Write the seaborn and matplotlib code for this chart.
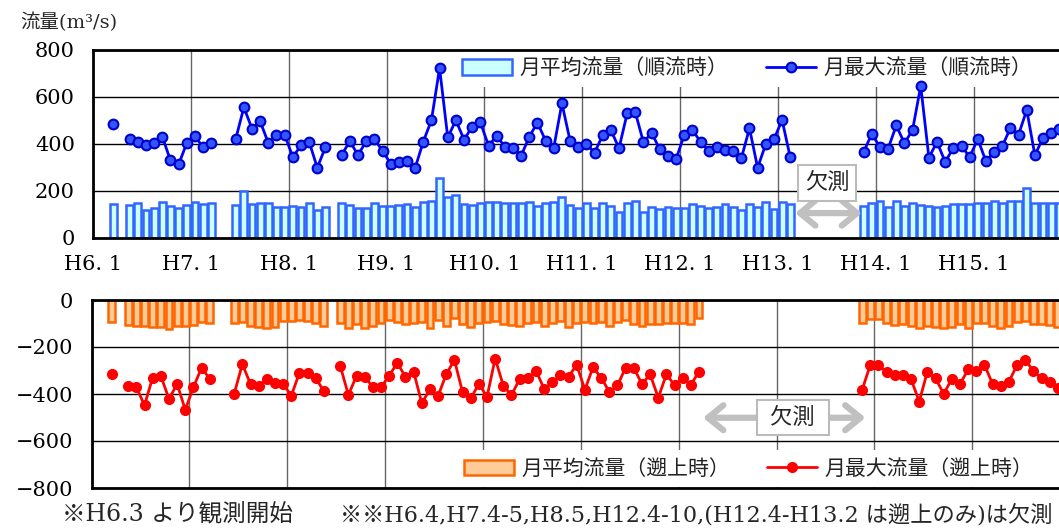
import numpy as np
import pandas as pd
import matplotlib
matplotlib.use("Agg")
import matplotlib.pyplot as plt
import seaborn as sns
from matplotlib.patches import Patch
from matplotlib.lines import Line2D

nan = np.nan

# monthly values, one row per year (H6 .. H15), Jan..Dec
years = ["H6", "H7", "H8", "H9", "H10", "H11", "H12", "H13", "H14", "H15"]

fwd_mean = [
    nan, nan, 146, nan, 140, 148, 121, 126, 153, 138, 126, 142,
    155, 145, 148, nan, nan, 139, 201, 143, 148, 150, 133, 131,
    138, 133, 148, 119, 133, nan, 148, 140, 129, 126, 148, 138,
    136, 140, 143, 133, 152, 157, 257, 176, 183, 143, 140, 149,
    152, 153, 150, 148, 149, 152, 136, 148, 152, 176, 140, 126,
    148, 126, 148, 138, 112, 148, 159, 112, 133, 123, 130, 129,
    126, 145, 138, 126, 133, 143, 133, 119, 143, 133, 152, 122,
    152, 146, nan, nan, nan, nan, nan, nan, nan, nan, 138, 148,
    157, 133, 159, 136, 148, 140, 138, 133, 136, 143, 143, 143,
    148, 148, 157, 148, 157, 157, 211, 148, 150, 150, 148, nan,
]

fwd_max = [
    nan, nan, 486, nan, 421, 408, 396, 404, 431, 330, 313, 404,
    433, 386, 404, nan, nan, 421, 556, 465, 496, 404, 437, 440,
    344, 394, 410, 299, 386, nan, 353, 413, 352, 413, 420, 372,
    315, 323, 329, 298, 410, 501, 723, 428, 501, 418, 474, 492,
    393, 434, 389, 382, 350, 431, 491, 414, 384, 573, 414, 386,
    400, 363, 437, 460, 382, 530, 535, 407, 448, 377, 349, 336,
    438, 460, 409, 370, 386, 374, 369, 339, 467, 299, 400, 420,
    502, 343, nan, nan, nan, nan, nan, nan, nan, nan, 365, 444,
    386, 380, 479, 403, 460, 647, 342, 409, 323, 384, 391, 345,
    421, 326, 367, 391, 468, 440, 545, 352, 427, 448, 462, nan,
]

rev_mean = [
    nan, nan, -95, nan, -106, -112, -110, -116, -113, -123, -110, -110,
    -108, -95, -99, nan, nan, -99, -95, -109, -113, -120, -116, -91,
    -88, -83, -88, -96, -110, nan, -99, -118, -103, -120, -110, -99,
    -85, -92, -102, -96, -93, -120, -85, -110, -78, -103, -113, -99,
    -92, -88, -103, -106, -110, -99, -92, -110, -96, -89, -113, -99,
    -95, -99, -95, -110, -92, -85, -103, -110, -103, -102, -99, -96,
    -99, -103, -75, nan, nan, nan, nan, nan, nan, nan, nan, nan,
    nan, nan, nan, nan, nan, nan, nan, nan, nan, nan, -96, -82,
    -82, -96, -106, -103, -109, -120, -110, -113, -120, -113, -103, -120,
    -99, -96, -110, -118, -110, -95, -88, -103, -103, -106, -113, nan,
]

rev_max = [
    nan, nan, -317, nan, -368, -371, -448, -330, -323, -421, -358, -467,
    -371, -288, -336, nan, nan, -398, -273, -358, -364, -336, -354, -356,
    -408, -309, -309, -334, -387, nan, -280, -404, -323, -327, -370, -371,
    -322, -268, -327, -305, -439, -380, -408, -316, -255, -392, -419, -357,
    -412, -249, -365, -404, -337, -334, -300, -378, -351, -319, -326, -276,
    -382, -286, -331, -391, -363, -288, -289, -358, -316, -416, -316, -363,
    -330, -360, -305, nan, nan, nan, nan, nan, nan, nan, nan, nan,
    nan, nan, nan, nan, nan, nan, nan, nan, nan, nan, -382, -276,
    -276, -307, -319, -320, -337, -432, -305, -334, -399, -336, -358, -295,
    -302, -276, -358, -368, -348, -276, -255, -302, -334, -347, -375, nan,
]

df = pd.DataFrame({
    "month": np.arange(len(fwd_max)) + 0.5,
    "fwd_mean": fwd_mean, "fwd_max": fwd_max,
    "rev_mean": rev_mean, "rev_max": rev_max,
})
# a new segment starts after every missing month, so lines break at gaps
for col in ["fwd_max", "rev_max"]:
    df[col + "_seg"] = df[col].isna().cumsum()

sns.set_theme(style="white")
plt.rcParams["font.family"] = ["DejaVu Serif", "Noto Sans CJK JP"]
plt.rcParams["axes.unicode_minus"] = True
JP = ["DejaVu Serif", "Noto Sans CJK JP"]

W, H = 1059, 528
fig = plt.figure(figsize=(W / 100, H / 100), dpi=100)
ax1 = fig.add_axes([93 / W, 1 - 238 / H, 978.6 / W, 188 / H])
ax2 = fig.add_axes([91.5 / W, 1 - 488 / H, 978.6 / W, 188 / H])

blue_face, blue_edge = "#ccffff", "#3366ff"
orange_face, orange_edge = "#ffcc99", "#ff6600"

# top: forward flow
sns.barplot(data=df.dropna(subset=["fwd_mean"]), x="month", y="fwd_mean",
            native_scale=True, color=blue_face, saturation=1,
            edgecolor=blue_edge, linewidth=1.8, width=0.84,
            errorbar=None, ax=ax1, zorder=3)
sns.lineplot(data=df.dropna(subset=["fwd_max"]), x="month", y="fwd_max",
             units="fwd_max_seg", estimator=None, color="#0000ff",
             linewidth=2, marker="o", markersize=7,
             markerfacecolor="#3355ff", markeredgecolor="#0000cc",
             markeredgewidth=1.5, ax=ax1, zorder=6)

# bottom: reverse flow
sns.barplot(data=df.dropna(subset=["rev_mean"]), x="month", y="rev_mean",
            native_scale=True, color=orange_face, saturation=1,
            edgecolor=orange_edge, linewidth=1.8, width=0.84,
            errorbar=None, ax=ax2, zorder=3)
sns.lineplot(data=df.dropna(subset=["rev_max"]), x="month", y="rev_max",
             units="rev_max_seg", estimator=None, color="#ff0000",
             linewidth=2, marker="o", markersize=7,
             markerfacecolor="#ff0000", markeredgecolor="#ff0000",
             markeredgewidth=1, ax=ax2, zorder=6)

for ax in (ax1, ax2):
    ax.set_xlim(0, 120)
    ax.set_xticks(np.arange(0, 120, 12))
    ax.set_xlabel("")
    ax.set_ylabel("")
    ax.set_axisbelow(True)
    ax.grid(axis="y", color="black", linewidth=1)
    ax.grid(axis="x", color="#666666", linewidth=1)
    ax.tick_params(length=0, labelsize=15, pad=13, colors="black")
    for s in ax.spines.values():
        s.set_color("black")
        s.set_linewidth(2)
        s.set_zorder(10)

ax1.set_ylim(0, 800)
ax1.set_yticks(range(0, 801, 200))
ax1.set_xticklabels([f"{y}. 1" for y in years])
ax1.tick_params(axis="x", pad=12)

ax2.set_ylim(-800, 0)
ax2.set_yticks(range(-800, 1, 200))
ax2.set_xticklabels([])

leg_kw = dict(ncol=2, frameon=True, facecolor="white", edgecolor="none",
              framealpha=1, fancybox=False, prop={"family": JP, "size": 15},
              handlelength=2.4, handleheight=0.8, columnspacing=1.8,
              borderaxespad=0, borderpad=0.4, handletextpad=0.35,
              labelcolor="#222222")

h1 = [Patch(facecolor=blue_face, edgecolor=blue_edge, linewidth=1.8),
      Line2D([], [], color="#0000ff", linewidth=2, marker="o", markersize=7,
             markerfacecolor="#3355ff", markeredgecolor="#0000cc",
             markeredgewidth=1.5)]
lg1 = ax1.legend(h1, ["月平均流量（順流時）", "月最大流量（順流時）"],
                 loc="upper right", bbox_to_anchor=(0.968, 1.0), **leg_kw)
lg1.set_zorder(5)

h2 = [Patch(facecolor=orange_face, edgecolor=orange_edge, linewidth=1.8),
      Line2D([], [], color="#ff0000", linewidth=2, marker="o", markersize=7,
             markerfacecolor="#ff0000", markeredgecolor="#ff0000")]
lg2 = ax2.legend(h2, ["月平均流量（遡上時）", "月最大流量（遡上時）"],
                 loc="lower right", bbox_to_anchor=(0.971, 0.005), **leg_kw)
lg2.set_zorder(5)

# missing-data markers
arrow_kw = dict(arrowstyle="<->,head_length=0.55,head_width=0.45",
                color="#c0c0c0", lw=4.5, shrinkA=0, shrinkB=0,
                mutation_scale=20)
ax1.annotate("", xy=(94.3, 106), xytext=(86.1, 106), arrowprops=arrow_kw,
             zorder=7)
ax1.text(90.0, 234, "欠測", ha="center", va="center", family=JP, fontsize=16,
         bbox=dict(boxstyle="square,pad=0.3", fc="white", ec="#bbbbbb",
                   lw=1.5), zorder=7)
ax2.annotate("", xy=(94.9, -501), xytext=(75.0, -501), arrowprops=arrow_kw,
             zorder=7)
ax2.text(86.0, -501, " 欠測 ", ha="center", va="center", family=JP,
         fontsize=16, bbox=dict(boxstyle="square,pad=0.3", fc="white",
                                ec="#bbbbbb", lw=1.5), zorder=8)

fig.text(20 / W, 1 - 22 / H, "流量(m³/s)", ha="left", va="center",
         family=JP, fontsize=14)
fig.text(62 / W, 1 - 515 / H, "※H6.3 より観測開始", ha="left", va="center",
         family=JP, fontsize=17)
fig.text(340 / W, 1 - 515 / H,
         "※※H6.4,H7.4-5,H8.5,H12.4-10,(H12.4-H13.2 は遡上のみ)は欠測",
         ha="left", va="center", family=JP, fontsize=16)

fig.savefig("out.png", dpi=100)
